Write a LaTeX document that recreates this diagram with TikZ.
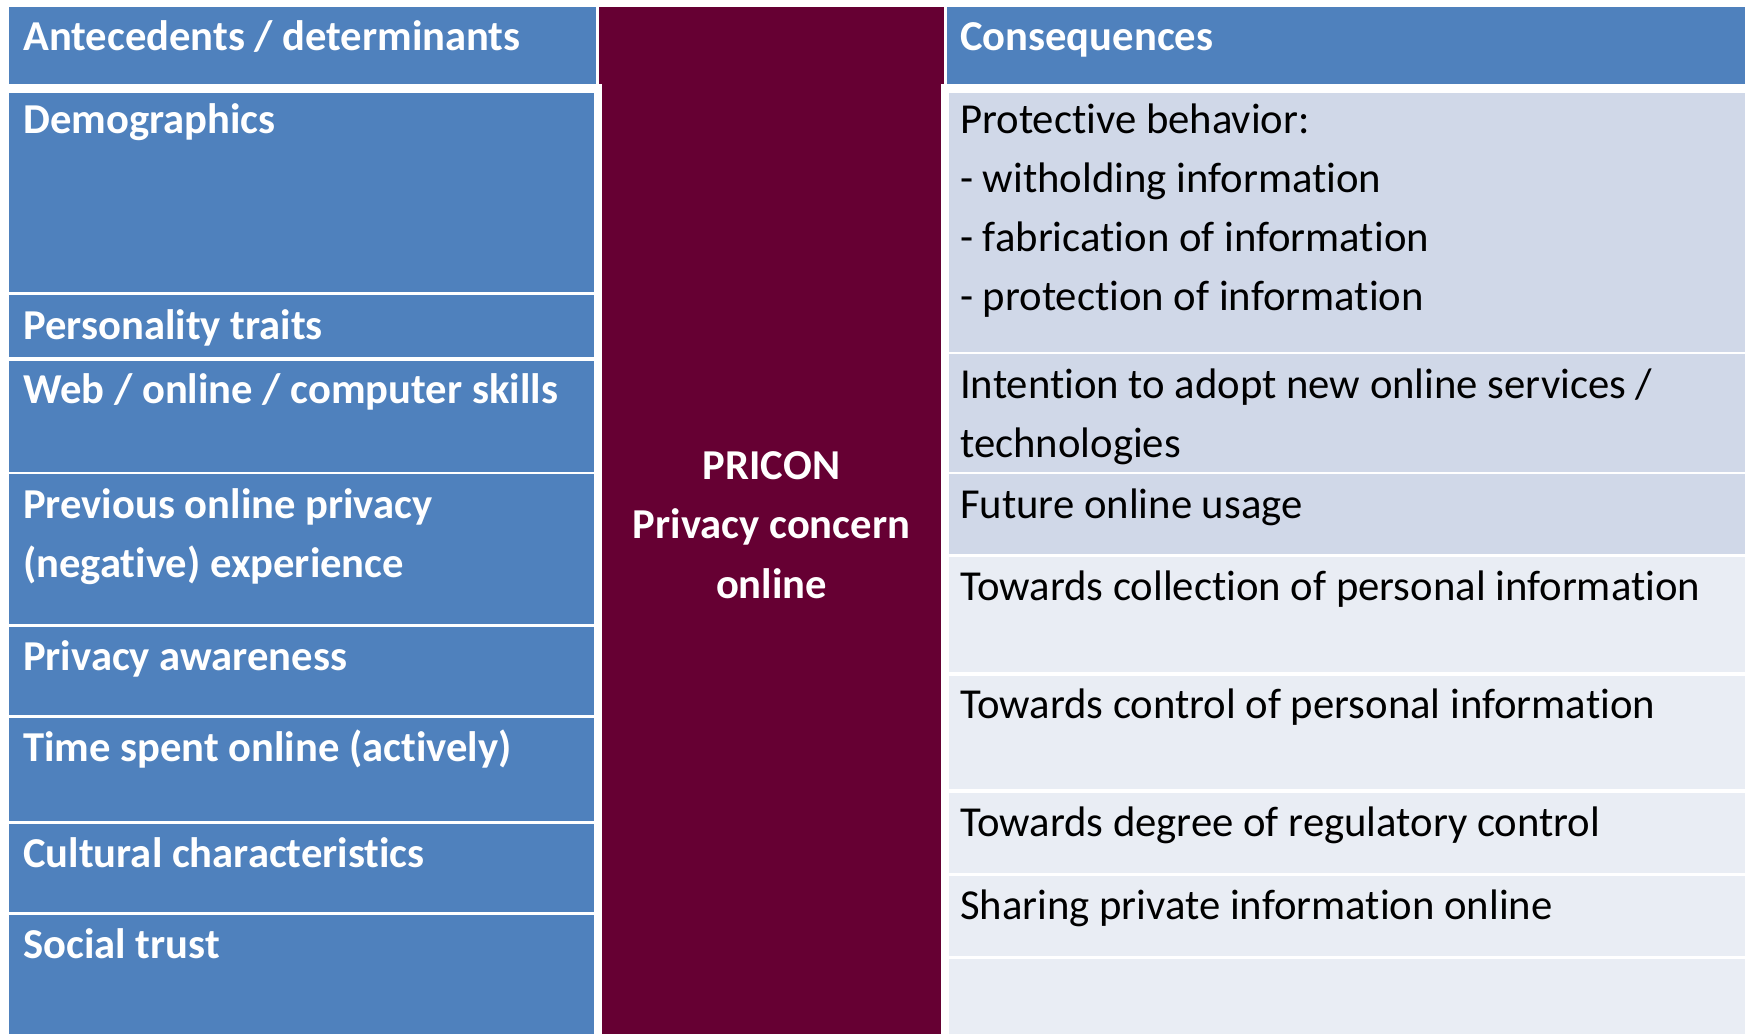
\documentclass[tikz,border=0pt]{standalone}
\usepackage{fontspec}
\setmainfont{Carlito}[Ligatures=NoCommon]
\usetikzlibrary{calc}

\definecolor{hdrblue}{RGB}{79,129,189}
\definecolor{pricon}{RGB}{102,0,51}
\definecolor{rowdark}{RGB}{208,216,232}
\definecolor{rowlight}{RGB}{233,237,244}

% stacked lines whose baseline is the baseline of the first line
\newcommand{\leftlines}[1]{\vtop{\halign{##\hfil\cr#1\crcr}}}
\newcommand{\midlines}[1]{\vtop{\halign{\hfil##\hfil\cr#1\crcr}}}

\tikzset{
  cell/.style={inner sep=0pt, outer sep=0pt, anchor=north west, draw=none},
  antecell/.style={cell, fill=hdrblue},
  darkcell/.style={cell, fill=rowdark},
  lightcell/.style={cell, fill=rowlight},
  whitelbl/.style={inner sep=0pt, anchor=base west, text=white,
    font=\fontsize{42.6}{59}\selectfont\bfseries},
  blacklbl/.style={inner sep=0pt, anchor=base west, text=black,
    font=\fontsize{42.7}{59}\selectfont},
  midlbl/.style={inner sep=0pt, anchor=base, text=white,
    font=\fontsize{42.6}{59.5}\selectfont\bfseries},
}

\begin{document}
\begin{tikzpicture}[x=1pt,y=-1pt]
  \useasboundingbox[fill=white] (0,0) rectangle (1745,1034);

  % central merged column
  \node[cell, fill=pricon, minimum width=345, minimum height=77] (midhead) at (599,7) {};
  \node[cell, fill=pricon, minimum width=339, minimum height=1027] (mid) at (602,7) {};

  % header row
  \node[antecell, minimum width=587, minimum height=77] (lhead) at (9,7) {};
  \node[antecell, minimum width=798, minimum height=77] (rhead) at (947,7) {};
  \node[whitelbl] at ($(lhead.north west)+(14,43)$) {Antecedents / determinants};
  \node[whitelbl] at ($(rhead.north west)+(13,43)$) {Consequences};

  % antecedents column
  \node[antecell, minimum width=584.5, minimum height=199] (demo)  at (9,93)  {};
  \node[antecell, minimum width=584.5, minimum height=62]  (pers)  at (9,295) {};
  \node[antecell, minimum width=584.5, minimum height=111] (web)   at (9,361) {};
  \node[antecell, minimum width=584.5, minimum height=150] (prev)  at (9,474) {};
  \node[antecell, minimum width=584.5, minimum height=88]  (aware) at (9,627) {};
  \node[antecell, minimum width=584.5, minimum height=103] (time)  at (9,718) {};
  \node[antecell, minimum width=584.5, minimum height=88]  (cult)  at (9,824) {};
  \node[antecell, minimum width=584.5, minimum height=119] (trust) at (9,915) {};

  \node[whitelbl] at ($(demo.north west)+(14,40)$)  {Demographics};
  \node[whitelbl] at ($(pers.north west)+(14,44)$)  {Personality traits};
  \node[whitelbl] at ($(web.north west)+(14,42)$)   {Web / online / computer skills};
  \node[whitelbl] at ($(prev.north west)+(14,44)$)  {\leftlines{Previous online privacy\cr (negative) experience}};
  \node[whitelbl] at ($(aware.north west)+(14,43)$) {Privacy awareness};
  \node[whitelbl] at ($(time.north west)+(14,43)$)  {Time spent online (actively)};
  \node[whitelbl] at ($(cult.north west)+(14,43)$)  {Cultural characteristics};
  \node[whitelbl] at ($(trust.north west)+(14,43)$) {Social trust};

  % central label
  \node[midlbl] at ($(mid.north)+(0,472)$) {\midlines{PRICON\cr Privacy concern\cr online}};

  % consequences column
  \node[darkcell,  minimum width=796, minimum height=259] (protect) at (949,93)  {};
  \node[darkcell,  minimum width=796, minimum height=118] (intent)  at (949,354) {};
  \node[darkcell,  minimum width=796, minimum height=80]  (future)  at (949,474) {};
  \node[lightcell, minimum width=796, minimum height=115] (collect) at (949,557) {};
  \node[lightcell, minimum width=796, minimum height=113] (control) at (949,676) {};
  \node[lightcell, minimum width=796, minimum height=80]  (regul)   at (949,793) {};
  \node[lightcell, minimum width=796, minimum height=80]  (share)   at (949,876) {};
  \node[lightcell, minimum width=796, minimum height=75]  (spare)   at (949,959) {};

  \node[blacklbl] at ($(protect.north west)+(11,40)$) {\leftlines{Protective behavior:\cr
      - witholding information\cr - fabrication of information\cr - protection of information}};
  \node[blacklbl] at ($(intent.north west)+(11,44)$)  {\leftlines{Intention to adopt new online services /\cr technologies}};
  \node[blacklbl] at ($(future.north west)+(11,44)$)  {Future online usage};
  \node[blacklbl] at ($(collect.north west)+(11,43)$) {Towards collection of personal information};
  \node[blacklbl] at ($(control.north west)+(11,42.5)$) {Towards control of personal information};
  \node[blacklbl] at ($(regul.north west)+(11,43)$)   {Towards degree of regulatory control};
  \node[blacklbl] at ($(share.north west)+(11,43)$)   {Sharing private information online};
\end{tikzpicture}
\end{document}
